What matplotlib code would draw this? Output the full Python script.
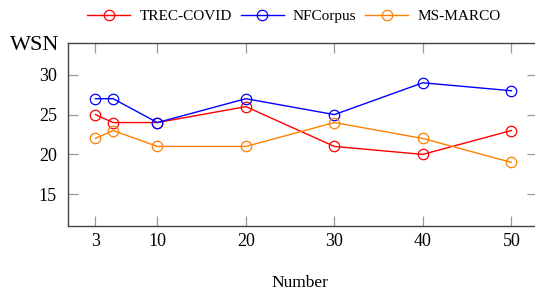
import matplotlib
matplotlib.use("Agg")
import matplotlib.pyplot as plt

x_values = [3, 5, 10, 20, 30, 40, 50]
x_ticks = [3, 10, 20, 30, 40, 50]
y_ticks = [15, 20, 25, 30]
series_names = ["TREC-COVID", "NFCorpus", "MS-MARCO"]
trec_covid = [25, 24, 24, 26, 21, 20, 23]
nfcorpus = [27, 27, 24, 27, 25, 29, 28]
ms_marco = [22, 23, 21, 21, 24, 22, 19]
colors = ["#ff0000", "#0000ff", "#ff8000"]

plt.rcParams['font.family'] = ['Liberation Serif', 'DejaVu Serif']

fig = plt.figure(figsize=(5.35, 2.93), dpi=100)
ax = fig.add_axes([68/535, 67/293, (537-68)/535, (226-43)/293])

for name, vals, c in zip(series_names, [trec_covid, nfcorpus, ms_marco], colors):
    ax.plot(x_values, vals, color=c, lw=1.0, marker='o', markersize=7.5,
            markerfacecolor='none', markeredgecolor=c, markeredgewidth=0.9, label=name)

ax.set_xlim(-0.1, 52.9)
ax.set_ylim(11, 34)
ax.set_xticks(x_ticks)
ax.set_yticks(y_ticks)
ax.tick_params(direction='in', length=7.5, color='#999999', width=0.9,
               labelsize=13, top=True, right=True)
ax.tick_params(axis='y', pad=8)
ax.tick_params(axis='x', pad=5)
for s in ax.spines.values():
    s.set_color('#444444')
    s.set_linewidth(1.0)

fig.text(10/535, 1 - 45/293, "WSN", fontsize=16, ha='left', va='center')
fig.text(300/535, 1 - 283/293, "Number", fontsize=12.5, ha='center', va='center')

fig.legend(loc='center', bbox_to_anchor=(294/535, 1 - 16/293), ncol=3, frameon=False,
           fontsize=11, handlelength=2.8, columnspacing=0.6, handletextpad=0.6,
           borderaxespad=0, borderpad=0)

fig.savefig("out.png", dpi=100)
